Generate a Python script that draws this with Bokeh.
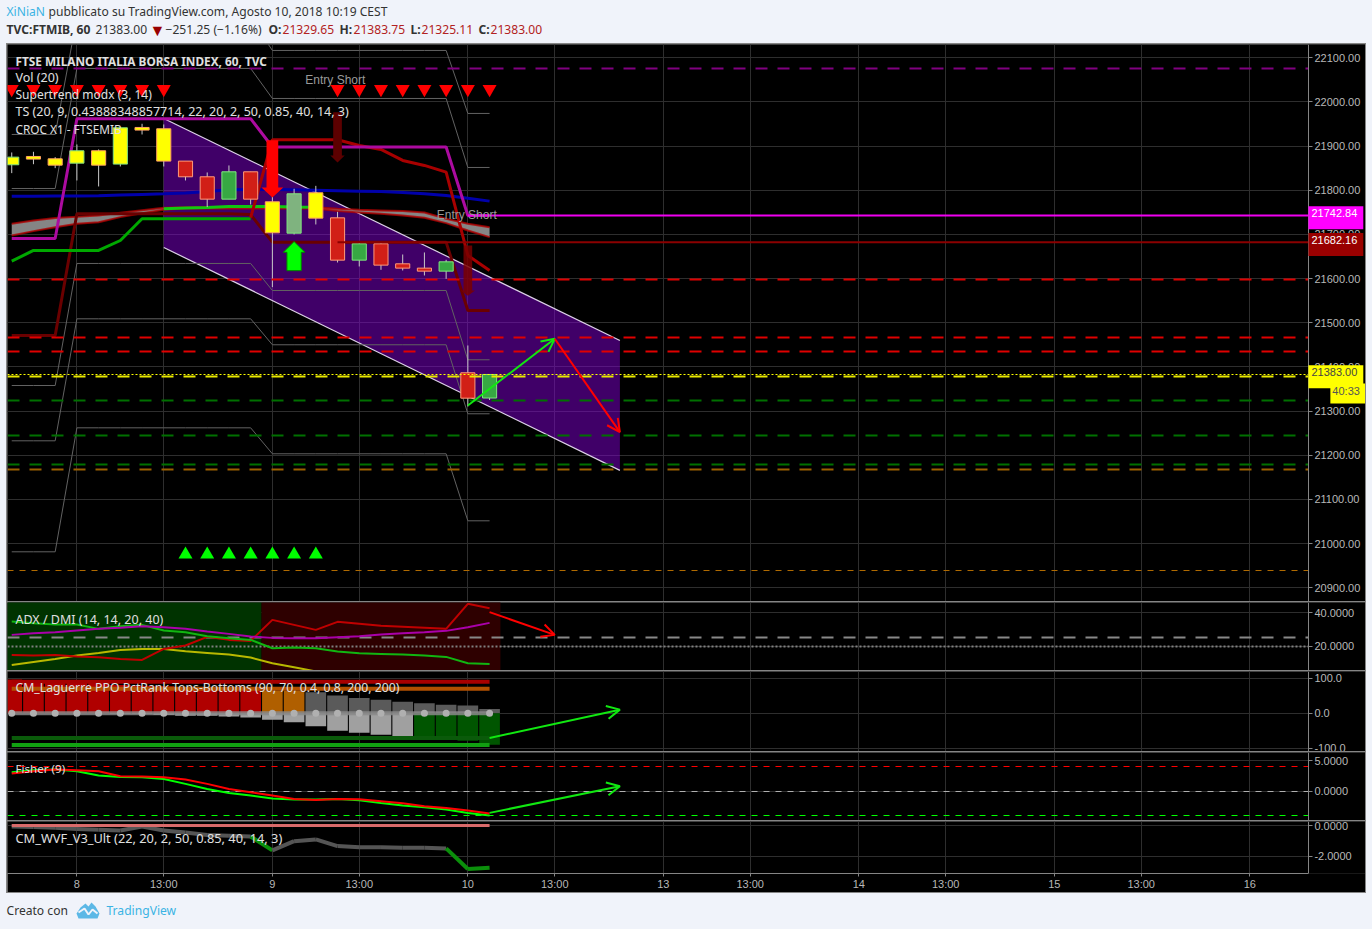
from bokeh.plotting import figure
from bokeh.layouts import column
from bokeh.models import Range1d, FixedTicker, NumeralTickFormatter, Label, Arrow, OpenHead
from bokeh.embed import file_html
from bokeh.resources import INLINE

# ---------- data ----------
bars = list(range(-3, 20))
tick_pos = [0, 4, 9, 13, 18, 22, 27, 31, 36, 40, 45, 49, 54]
tick_txt = ["8", "13:00", "9", "13:00", "10", "13:00", "13", "13:00", "14", "13:00", "15", "13:00", "16"]
price_ticks = [20900, 21000, 21100, 21200, 21300, 21400, 21500, 21600, 21700, 21800, 21900, 22000, 22100]

body_top = [21875, 21876.5, 21871.2, 21889.4, 21889.4, 21941.4, 21942.2, 21939.2, 21866, 21830.5, 21841.8, 21841.8,
            21773.9, 21792, 21794.3, 21737.6, 21678.8, 21678.8, 21633.5, 21623.7, 21638, 21386.8, 21383]
body_bot = [21857.7, 21870.5, 21856.9, 21861.4, 21856.9, 21859.2, 21936.2, 21866, 21830.5, 21779.9, 21779.9, 21779.9,
            21703.7, 21702.9, 21736.9, 21641.8, 21641.8, 21630.5, 21623.7, 21616.9, 21616.9, 21329.3, 21329.65]
wick_hi = [21885.6, 21887.1, 21875, 21903.7, 21892.4, 21941.4, 21950.5, 21949, 21866, 21840.3, 21856.2, 21841.8,
           21799.5, 21803.3, 21810, 21751.2, 21682.6, 21682.6, 21654.6, 21659.2, 21642.6, 21448.6, 21383.75]
wick_lo = [21838.8, 21859, 21850.1, 21822.2, 21808.6, 21853.9, 21926.3, 21853.9, 21822.2, 21761.8, 21779.9, 21767.8,
           21580.7, 21699.9, 21722.6, 21636.5, 21627.5, 21619.9, 21618.4, 21607.1, 21599.5, 21310.4, 21325.11]
body_fill = ["#ffff00"] * 8 + ["#d11f17", "#d11f17", "#37a843", "#d11f17", "#ffff00", "#7fb37f", "#ffff00",
             "#d11f17", "#37a843", "#d11f17", "#d11f17", "#d11f17", "#37a843", "#d11f17", "#37a843"]
body_edge = ["#7fe07f", "#ffa060", "#ffa060", "#7fe07f", "#ffa060", "#7fe07f", "#ffa060", "#ffa060", "#ff9a7a", "#ff9a7a", "#7fe87f", "#ff9a7a",
             "#ffa060", "#7fe87f", "#ffa060", "#ff9a7a", "#7fe87f", "#ff9a7a", "#ff9a7a", "#ff9a7a", "#7fe87f", "#ff9a7a", "#7fe87f"]

st_line = [21691, 21691, 21691, 21962, 21962, 21962, 21962, 21962, 21962, 21962, 21962, 21962,
           21898, 21898, 21898, 21898, 21898, 21898, 21898, 21898, 21898, 21743, 21743]
dark_line = [21471, 21471, 21471, 21746.8, 21746.8, 21746.8, 21746.8, 21746.8, 21746.8, 21746.8, 21746.8, 21745,
             21682.5, 21682.5, 21682.5, 21682.5, 21682.5, 21682.5, 21682.5, 21682.5, 21682.5, 21527.8, 21527.8]
red_bars = [8, 9, 10, 11, 12, 13, 14, 15, 16, 17, 18, 19]
red_line = [21738, 21914.3, 21914.3, 21914.3, 21914.3, 21901.4, 21892.4, 21867.5, 21856.2, 21841, 21652.4, 21618.4]
blue_line = [21786.7, 21786.7, 21787, 21787, 21787.5, 21789, 21790.5, 21792, 21794, 21797, 21801, 21801.5,
             21802, 21801, 21800, 21799, 21798, 21797, 21795, 21792, 21788, 21782, 21775.4]
band_top = [21724, 21731.6, 21737, 21740, 21743, 21749, 21755, 21760.3, 21761.8, 21762, 21762, 21762,
            21762, 21762, 21761.8, 21758, 21755.8, 21754.3, 21752.8, 21749.7, 21735.4, 21724, 21716.5]
band_bot = [21697.7, 21707.5, 21716.5, 21724, 21727.8, 21739.2, 21748.2, 21755.8, 21758.8, 21758.8, 21758.8, 21758.8,
            21758.8, 21758.8, 21758.8, 21752.8, 21749.7, 21746.7, 21742.9, 21737.6, 21725.6, 21709, 21693.9]
green_low_bars = [-3, -2, -1, 0, 1, 2, 3, 4, 5, 6, 7, 8]
green_low = [21639.5, 21663.7, 21663.7, 21663.7, 21663.7, 21686.3, 21735.4, 21735.4, 21735.4, 21735.4, 21735.4, 21735.4]
green_up_bars = [4, 5, 6, 7, 8, 9, 10, 11]
green_up = [21758, 21760, 21761, 21763.3, 21763.3, 21763, 21762, 21761.8]

chan_a = [21926.3, 21926.3, 21926.3, 22191, 22191, 22191, 22191, 22191, 22191, 22191, 22191, 22191,
          22116.5, 22116.5, 22116.5, 22116.5, 22116.5, 22116.5, 22116.5, 22116.5, 22116.5, 21973.9, 21973.9]
chan_b = [21804, 21804, 21804, 22075.8, 22075.8, 22075.8, 22075.8, 22075.8, 22075.8, 22075.8, 22075.8, 22075.8,
          22007.8, 22007.8, 22007.8, 22007.8, 22007.8, 22007.8, 22007.8, 22007.8, 22007.8, 21851.6, 21851.6]
chan_c = [21358, 21358, 21358, 21634.3, 21634.3, 21634.3, 21634.3, 21634.3, 21634.3, 21634.3, 21634.3, 21634.3,
          21573.1, 21573.1, 21573.1, 21573.1, 21573.1, 21573.1, 21573.1, 21573.1, 21573.1, 21416.2, 21416.2]
chan_d = [21232.8, 21232.8, 21232.8, 21509, 21509, 21509, 21509, 21509, 21509, 21509, 21509, 21509,
          21450.2, 21450.2, 21450.2, 21450.2, 21450.2, 21450.2, 21450.2, 21450.2, 21450.2, 21294, 21294]
chan_e = [20981.5, 20981.5, 20981.5, 21262.2, 21262.2, 21262.2, 21262.2, 21262.2, 21262.2, 21262.2, 21262.2, 21262.2,
          21203.4, 21203.4, 21203.4, 21203.4, 21203.4, 21203.4, 21203.4, 21203.4, 21203.4, 21051.7, 21051.7]

channel_x = [4, 25]
channel_top = [21962.6, 21460]
channel_bot = [21670.5, 21165.9]

sell_bars = [-3, -2, -1, 0, 1, 2, 3, 4, 12, 13, 14, 15, 16, 17, 18, 19]
buy_bars = [5, 6, 7, 8, 9, 10, 11]
sell_level = 22029
buy_level = 20975.4

level_purple = 22075
levels_red = [21599, 21466, 21434]
level_yellow = 21377.7
levels_green = [21323.4, 21244.1, 21178.5]
level_brown = 21167
level_orange = 20938.5
last_price = 21383
entry_price = 21742.84
stop_price = 21682.16

# big signal arrows: bar, shaft start, head base, tip
big_down = [(9, 21913, 21806, 21783.7), (12, 21976.8, 21878.6, 21863), (18, 21675, 21573, 21561)]
big_up = (10, 21618, 21659.6, 21684)

adx_ticks = [20, 40]
adx_green = [34.8, 33.8, 33, 33, 30.4, 32, 32.8, 29.4, 28.4, 26, 24.8, 23.8, 18.8, 19.2, 18.8, 16.8, 15.8, 15.4, 15, 14.4, 13.6, 9.8, 9.4]
adx_purple = [26.8, 27.8, 28.4, 29.4, 30.4, 31, 32, 31.4, 30.4, 28.8, 27.4, 25.8, 25, 24.8, 24.8, 25.4, 26, 27, 27.8, 28.4, 29.2, 31.4, 34]
adx_red = [14.8, 14.4, 14.8, 13.8, 13.4, 12.4, 11.8, 18.4, 20.4, 25.6, 23.8, 23.2, 35.8, 32.8, 29.8, 34.6, 33.4, 32.2, 31.6, 31, 30.4, 45.4, 42.8]
adx_yellow_bars = [-3, -2, -1, 0, 1, 2, 3, 4, 5, 6, 7, 8, 9, 10, 11]
adx_yellow = [8.8, 10.6, 12.4, 14.4, 16, 17.8, 18.4, 18.4, 17, 16, 15, 13.2, 9.8, 7.4, 4.9]
adx_zone_left = [-3.5, 8.5]
adx_zone_right = [8.5, 19.5]
adx_zone_col = ["#003300", "#2e0000"]

lag_ticks = [-100, 0, 100]
lag_up = [95.9, 94.9, 92.1, 90.2, 86.4, 80.7, 78.8, 76.9, 71.2, 71.2, 69.3, 66.5, 64.6, 64.6, 59.8, 50.4, 43.7, 39, 33.3, 28.6, 24.8, 22, 12.4]
lag_dn = [0, 0, 0, 0, 0, -2, -2, -5, -7, -7, -9, -12, -17.9, -25.5, -36.9, -49.2, -54.9, -60.6, -68.2, -72.9, -74.8, -77.7, -89]
lag_up_col = ["#b00000"] * 12 + ["#b05f00"] * 2 + ["#5a5a5a"] * 9
lag_dn_col = ["#a0a0a0"] * 19 + ["#005500"] * 4
lag_zero = [0] * 23
lag_levels = [(90, "#a80000"), (70, "#b25000"), (-70, "#0a5a0a"), (-90, "#11a011")]

fish_ticks = [0, 5]
fish_red = [2.88, 3.26, 3.53, 3.42, 3.26, 2.45, 2.39, 2.28, 1.9, 1.2, .38, -.16, -.7, -1.25, -1.41, -1.25, -1.3, -1.62, -1.95, -2.44, -2.71, -3.15, -3.63]
fish_green = [3.1, 3.42, 3.53, 3.26, 2.56, 2.34, 2.28, 2.01, 1.2, .38, -.27, -.7, -1.19, -1.35, -1.35, -1.25, -1.46, -1.9, -2.33, -2.6, -2.98, -3.53, -3.96]

wvf_ticks = [-2, 0]
wvf = [-.06, -.1, -.15, -.23, -.28, -.32, -.06, -.32, -.45, -.62, -.66, -.71, -1.61, -1.01, -.9, -1.33, -1.4, -1.4, -1.44, -1.44, -1.48, -2.81, -2.73]
wvf_col = ["#555555"] * 11 + ["#0b8f0b"] + ["#555555"] * 8 + ["#0b8f0b"] * 2

# ---------- style ----------
BG = "#f0f3fa"
GRID = "#2e2e2e"
EDGE = "#858585"
TXT = "#b8b8b8"
UI = "Noto Sans"
AX = "Liberation Sans"
X0, X1, X_END = -3.195, 56.7, 59.328   # left edge, price axis, right edge of the pane
x_range = Range1d(X0, X_END)


def pane(h, y0, y1, ticks, fmt, axis_below=False):
    p = figure(frame_width=1358, frame_height=h, x_range=x_range, y_range=Range1d(y0, y1),
               output_backend="svg", toolbar_location=None, y_axis_location="right",
               x_axis_location="below" if axis_below else None,
               background_fill_color="#000000", border_fill_color="#000000",
               min_border_left=0, min_border_right=0, min_border_top=0,
               min_border_bottom=19 if axis_below else 0, outline_line_color=None, margin=(0, 1, 0, 1))
    ax = p.yaxis[0]
    ax.fixed_location = X1
    ax.ticker = FixedTicker(ticks=ticks)
    ax.formatter = NumeralTickFormatter(format=fmt)
    ax.major_label_text_font = AX
    ax.major_label_text_font_size = "11px"
    ax.major_label_text_color = TXT
    ax.major_label_standoff = 2
    ax.major_tick_in = 0
    ax.major_tick_out = 4
    ax.minor_tick_line_color = None
    ax.axis_line_color = EDGE
    ax.major_tick_line_color = EDGE
    p.ygrid.ticker = FixedTicker(ticks=ticks)
    p.xgrid.ticker = FixedTicker(ticks=tick_pos)
    p.xgrid.grid_line_color = GRID
    p.ygrid.grid_line_color = GRID
    return p


def axis_strip(p, y0, y1):
    p.quad(left=[X1], right=[X_END + 1], bottom=[y0], top=[y1], fill_color="#000000", line_color=None)


def title(p, h, txt, y, weight="normal", size="12.5px"):
    p.add_layout(Label(x=8, y=h - y, x_units="screen", y_units="screen", text=txt, text_font=UI,
                       text_font_size=size, text_color="#e0e0e0", text_baseline="middle", text_font_style=weight))


def tag(p, txt, price, fill, colour, x=X1, pad=(3, 6, 3, 12)):
    p.add_layout(Label(x=x, y=price, text=txt, text_font=AX,
                       text_font_size="11px", text_color=colour, text_baseline="middle",
                       background_fill_color=fill, padding=pad))


def arrow(p, x0, y0, x1, y1, colour):
    p.add_layout(Arrow(end=OpenHead(line_color=colour, line_width=2, size=13), x_start=x0, y_start=y0, x_end=x1, y_end=y1,
                       line_color=colour, line_width=2))


def signal(p, bar, start, base, tip, shaft, head, colour, edge=None, alpha=1.0):
    xs = [bar - shaft, bar + shaft, bar + shaft, bar + head, bar, bar - head, bar - shaft]
    ys = [start, start, base, base, tip, base, base]
    p.patch(xs, ys, fill_color=colour, fill_alpha=alpha, line_color=edge)


# ---------- main pane ----------
H_MAIN = 557
main = pane(H_MAIN, 20869, 22130, price_ticks, "0.00")

main.varea(x=channel_x, y1=channel_bot, y2=channel_top, fill_color="#8000d0", fill_alpha=0.5)
main.line(channel_x, channel_top, line_color="#ddd0e8", line_width=1.2)
main.line(channel_x, channel_bot, line_color="#ddd0e8", line_width=1.2)

for series in (chan_a, chan_b, chan_c, chan_d, chan_e):
    main.line(bars, series, line_color="#626262", line_width=1)

main.varea(x=bars, y1=band_bot, y2=band_top, fill_color="#8c8c8c", fill_alpha=0.95)
main.line(bars, band_top, line_color="#b00000", line_width=2, line_alpha=0.8)
main.line(bars, band_bot, line_color="#b00000", line_width=2, line_alpha=0.8)
main.line(bars, dark_line, line_color="#6a0000", line_width=3)
main.line(green_low_bars, green_low, line_color="#00a800", line_width=3)
main.line(green_up_bars, green_up, line_color="#11c811", line_width=3)
main.line(bars, blue_line, line_color="#0000aa", line_width=3)
main.line(red_bars, red_line, line_color="#a80000", line_width=3)
main.line(bars, st_line, line_color="#ac0ba0", line_width=3)

main.segment(bars, wick_lo, bars, wick_hi, line_color="#c8c8c8", line_width=1)
main.vbar(x=bars, bottom=body_bot, top=body_top, width=0.65, fill_color=body_fill, line_color=body_edge, line_width=1)

main.hspan(y=[level_purple], line_color="#800080", line_width=2, line_dash="12 10")
main.hspan(y=levels_red, line_color="#e00000", line_width=2, line_dash="12 10")
main.hspan(y=[level_yellow], line_color="#e8e800", line_width=2, line_dash="12 10")
main.hspan(y=levels_green, line_color="#007000", line_width=2, line_dash="12 10")
main.hspan(y=[level_brown], line_color="#9c6000", line_width=2, line_dash="12 10")
main.hspan(y=[level_orange], line_color="#b06a00", line_width=1, line_dash="6 6")
main.hspan(y=[last_price], line_color="#ffff00", line_width=1, line_dash="2 2")
main.ray(x=[18], y=[entry_price], length=0, angle=0, line_color="#f000f0", line_width=2)
main.ray(x=[12], y=[stop_price], length=0, angle=0, line_color="#8b0000", line_width=2)

main.scatter(sell_bars, [sell_level] * 16, marker="inverted_triangle", size=14, fill_color="#ff0000", line_color=None)
main.scatter(buy_bars, [buy_level] * 7, marker="triangle", size=14, fill_color="#00ff00", line_color=None)

signal(main, *big_down[0], 0.27, 0.5, "#ff0000")
signal(main, *big_down[1], 0.2, 0.33, "#5c0000")
signal(main, *big_down[2], 0.2, 0.33, "#7a0000", alpha=0.85)
signal(main, *big_up, 0.33, 0.5, "#00ff00", edge="#008000")
axis_strip(main, 20869, 22130)

arrow(main, 18, 21312.8, 22, 21463.8, "#11e811")
arrow(main, 22, 21463.8, 25, 21252.3, "#ff0000")

for bx, by in ((11.9, 22048.6), (17.95, 21745)):
    main.add_layout(Label(x=bx, y=by, text="Entry Short", text_font=AX, text_font_size="12px", text_color="#9a9a9a",
                          text_align="center", text_baseline="middle"))

title(main, H_MAIN, "FTSE MILANO ITALIA BORSA INDEX, 60, TVC", 16, "bold", "11.8px")
title(main, H_MAIN, "Vol (20)", 33)
title(main, H_MAIN, "Supertrend modx (3, 14)", 50, size="12px")
title(main, H_MAIN, "TS (20, 9, 0.43888348857714, 22, 20, 2, 50, 0.85, 40, 14, 3)", 67)
title(main, H_MAIN, "CROC X1 - FTSEMIB", 84, size="11.8px")

tag(main, "21742.84", 21738, "#ff00ff", "#ffffff")
tag(main, "21682.16", 21677, "#990000", "#ffffff")
tag(main, "21383.00", 21378, "#ffff00", "#444444")
tag(main, "40:33", 21340, "#ffff00", "#555555", x=57.71, pad=(2, 6, 2, 6))

# ---------- ADX ----------
H_ADX = 68
adx = pane(H_ADX, 5.45, 46.2, adx_ticks, "0.0000")
adx.quad(left=adx_zone_left, right=adx_zone_right, bottom=5, top=47, fill_color=adx_zone_col, line_color=None)
adx.hspan(y=[25], line_color="#888888", line_width=2, line_dash="12 10")
adx.hspan(y=[20], line_color="#808080", line_width=2, line_dash="2 2")
adx.line(adx_yellow_bars, adx_yellow, line_color="#b8b800", line_width=2)
adx.line(bars, adx_red, line_color="#c00000", line_width=2)
adx.line(bars, adx_green, line_color="#11b511", line_width=2)
adx.line(bars, adx_purple, line_color="#aa00aa", line_width=2)
axis_strip(adx, 5.45, 46.2)
arrow(adx, 19, 40.4, 22, 26.8, "#ff0000")
title(adx, H_ADX, "ADX / DMI (14, 14, 20, 40)", 17)

# ---------- Laguerre ----------
H_LAG = 80
lag = pane(H_LAG, -108.5, 119, lag_ticks, "0.0")
lag.vbar(x=bars, bottom=lag_zero, top=lag_up, width=0.95, fill_color=lag_up_col, line_color=None)
lag.vbar(x=bars, bottom=lag_dn, top=lag_zero, width=0.95, fill_color=lag_dn_col, line_color=None)
for lvl, col in lag_levels:
    lag.line(bars, [lvl] * 23, line_color=col, line_width=4)
lag.line(bars, lag_zero, line_color="#8a8a8a", line_width=4, line_alpha=0.85)
lag.scatter(bars, lag_zero, size=7, fill_color="#b0b0b0", line_color=None)
axis_strip(lag, -108.5, 119)
arrow(lag, 19, -70, 25, 10.5, "#11e811")
title(lag, H_LAG, "CM_Laguerre PPO PctRank Tops-Bottoms (90, 70, 0.4, 0.8, 200, 200)", 16, size="12.25px")

# ---------- Fisher ----------
H_FISH = 68
fish = pane(H_FISH, -4.76, 6.31, fish_ticks, "0.0000")
fish.hspan(y=[4], line_color="#ff0000", line_width=1.2, line_dash="6 6")
fish.hspan(y=[0], line_color="#b0b0b0", line_width=1.2, line_dash="6 6")
fish.hspan(y=[-4], line_color="#00ff00", line_width=1.2, line_dash="6 6")
fish.line(bars, fish_green, line_color="#00ff00", line_width=2)
fish.line(bars, fish_red, line_color="#ff0000", line_width=2)
axis_strip(fish, -4.76, 6.31)
arrow(fish, 19, -3.52, 25, 0.81, "#11e811")
title(fish, H_FISH, "Fisher (9)", 16, size="11.6px")

# ---------- WVF ----------
H_WVF = 52
wv = pane(H_WVF, -3.1, 0.258, wvf_ticks, "0.0000", axis_below=True)
wv.segment(bars[:-1], wvf[:-1], bars[1:], wvf[1:], line_color=wvf_col, line_width=4)
wv.line(bars, [0] * 23, line_color="#d96a6a", line_width=3)
axis_strip(wv, -3.1, 0.258)
title(wv, H_WVF, "CM_WVF_V3_Ult (22, 20, 2, 50, 0.85, 40, 14, 3)", 16, size="12.8px")
xa = wv.xaxis[0]
xa.bounds = (X0, X1)
xa.ticker = FixedTicker(ticks=tick_pos)
xa.major_label_overrides = dict(zip(tick_pos, tick_txt))
xa.major_label_text_font = AX
xa.major_label_text_font_size = "11px"
xa.major_label_text_color = TXT
xa.major_tick_out = 3
xa.major_tick_in = 0
xa.major_tick_line_color = EDGE
xa.minor_tick_line_color = None
xa.axis_line_color = EDGE
xa.major_label_standoff = 1

main.margin = (1, 1, 0, 1)
wv.margin = (0, 1, 1, 1)
chart = column(main, adx, lag, fish, wv, spacing=1, margin=(0, 0, 0, 6), styles={"background-color": EDGE})

# ---------- page header and footer ----------
header = figure(width=1372, height=43, x_range=(0, 1372), y_range=(43, 0), x_axis_location=None, y_axis_location=None,
                output_backend="svg", toolbar_location=None, background_fill_color=BG, border_fill_color=BG,
                min_border=0, outline_line_color=None, margin=0)
header.grid.visible = False


def htext(fig, txt, x, y, colour="#333333", weight="normal", size="12.1px", total=43):
    fig.add_layout(Label(x=x, y=total - y, x_units="screen", y_units="screen", text=txt, text_font=UI, text_font_size=size,
                         text_color=colour, text_baseline="middle", text_font_style=weight))


RED = "#b22222"
htext(header, "XiNiaN", 6, 11, "#3bb3e4")
htext(header, "pubblicato su TradingView.com, Agosto 10, 2018 10:19 CEST", 48, 11)
htext(header, "TVC:FTMIB, 60", 6, 29, weight="bold")
htext(header, "21383.00", 95, 29)
htext(header, "\u25bc", 149, 29, "#990000", size="16px")
htext(header, "\u2212251.25 (\u22121.16%)", 165, 29)
for x_key, key, x_val, val in ((268, "O:", 282, "21329.65"), (339, "H:", 353, "21383.75"),
                               (410, "L:", 421, "21325.11"), (478, "C:", 490, "21383.00")):
    htext(header, key, x_key, 29, weight="bold")
    htext(header, val, x_val, 29, RED)

footer = figure(width=1372, height=36, x_range=(0, 1372), y_range=(36, 0), x_axis_location=None, y_axis_location=None,
                output_backend="svg", toolbar_location=None, background_fill_color=BG, border_fill_color=BG,
                min_border=0, outline_line_color=None, margin=0)
footer.grid.visible = False
htext(footer, "Creato con", 6, 17, total=36)
htext(footer, "TradingView", 106, 17, "#3bb3e4", total=36)
footer.patch([76, 80, 85, 88, 91, 95, 99, 97, 78], [20, 14, 10, 13, 9, 13, 20, 25, 25], fill_color="#5cb8e6", line_color=None)
footer.line([78, 84, 88, 92, 97], [19, 15, 21, 16, 20], line_color=BG, line_width=2)

page = column(header, chart, footer, width=1372, height=929, spacing=0, styles={"background-color": BG})

open("out.html", "w").write(file_html(page, INLINE))
